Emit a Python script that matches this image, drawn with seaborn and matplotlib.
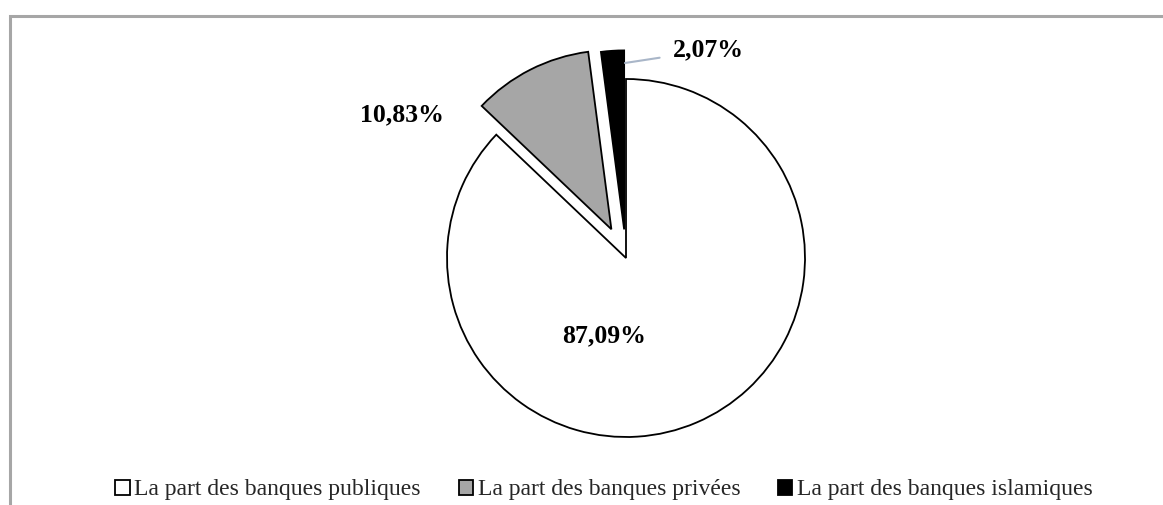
import matplotlib
matplotlib.use("Agg")
import matplotlib.pyplot as plt
import seaborn as sns
from matplotlib.patches import Rectangle

# ---- data ----
categories = ["La part des banques publiques",
              "La part des banques privées",
              "La part des banques islamiques"]
shares = [87.09, 10.83, 2.07]
slice_colors = ["#FFFFFF", "#A6A6A6", "#000000"]
explode_frac = [0.0, 0.18, 0.16]

sns.set_theme(style="white")
plt.rcParams["font.family"] = ["Liberation Serif", "DejaVu Serif"]

W, H = 1163, 505
R = 179
fig = plt.figure(figsize=(W / 100, H / 100), dpi=100)
ax = fig.add_axes([0, 0, 1, 1])

wedges, _ = ax.pie(shares, explode=[e * R for e in explode_frac],
                   colors=slice_colors, startangle=90, counterclock=False,
                   center=(626, H - 258), radius=R,
                   wedgeprops=dict(edgecolor="black", linewidth=1.3))
ax.set_aspect("auto")
ax.set_xlim(0, W)
ax.set_ylim(0, H)
ax.axis("off")

labels = [f"{v:.2f}".replace(".", ",") + "%" for v in shares]
lab_kw = dict(fontsize=18.5, fontweight="bold", ha="center", va="center",
              color="black")
ax.text(604, H - 336, labels[0], **lab_kw)
ax.text(402, H - 115, labels[1], **lab_kw)
ax.annotate(labels[2], xy=(625, H - 63), xytext=(708, H - 50),
            arrowprops=dict(arrowstyle="-", color="#A9B6C8", lw=1.5,
                            shrinkA=7, shrinkB=0, relpos=(0, 0.25)),
            **lab_kw)

leg = fig.legend(wedges, categories, loc="center",
                 bbox_to_anchor=(604 / W, 1 - 490 / H),
                 ncol=3, frameon=False, fontsize=17, handlelength=0.6,
                 handleheight=0.6, handletextpad=0.2, columnspacing=1.6,
                 borderaxespad=0, borderpad=0)

# chart-area border (only top and left visible in the crop)
fig.add_artist(Rectangle((9.5 / W, -0.2), 1.2, 1.2 - 15.5 / H,
                         transform=fig.transFigure, fill=False,
                         edgecolor="#A6A6A6", linewidth=2.2, clip_on=False))

fig.savefig("out.png", dpi=100)
